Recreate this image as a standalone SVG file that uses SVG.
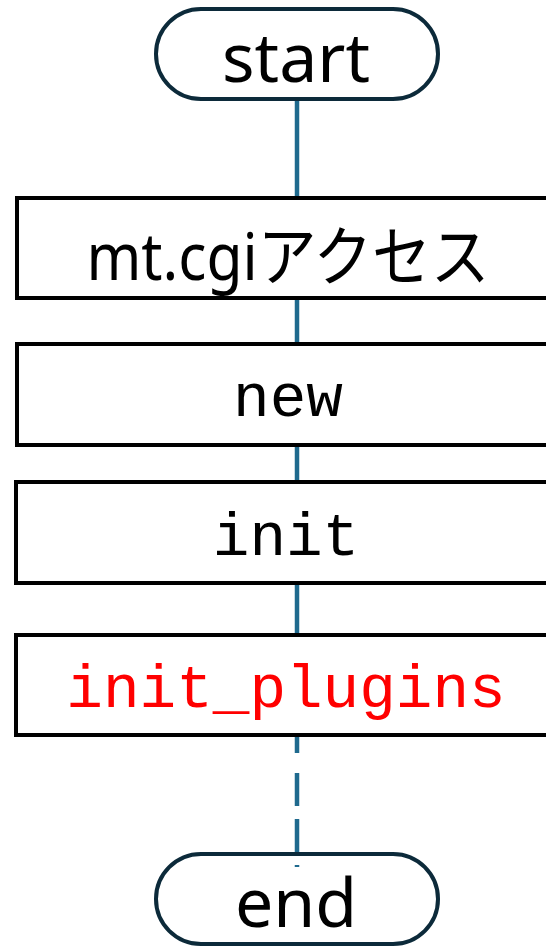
<svg xmlns="http://www.w3.org/2000/svg" width="546" height="947" viewBox="0 0 546 947">
<style>
.term{fill:none;stroke:#0c2a3a;stroke-width:4}
.box{fill:#fff;stroke:#000;stroke-width:4}
.edge{stroke:#1f6a8e;stroke-width:4.5;fill:none}
.sans{font-family:"Noto Sans","Noto Sans CJK JP",sans-serif;fill:#000;text-anchor:middle}
.mono{font-family:"Liberation Mono","DejaVu Sans Mono",monospace;font-size:61px;fill:#000;text-anchor:middle}
</style>
<rect width="546" height="947" fill="#fff"/>
<g id="connectors">
<line class="edge" x1="297" y1="99" x2="297" y2="198"/>
<line class="edge" x1="297" y1="298" x2="297" y2="343"/>
<line class="edge" x1="297" y1="445" x2="297" y2="482"/>
<line class="edge" x1="297" y1="583" x2="297" y2="635"/>
<line class="edge" x1="297" y1="737" x2="297" y2="867" stroke-dasharray="16,20,33,13,33,13,2,100"/>
</g>
<g id="start">
<rect class="term" x="156" y="9" width="282" height="90" rx="45"/>
<text class="sans" x="296" y="82" font-size="68">start</text>
</g>
<g id="mtcgi">
<rect class="box" x="17" y="198" width="560" height="100"/>
<text class="sans" x="288" y="280" font-size="65" textLength="403" lengthAdjust="spacingAndGlyphs">mt.cgiアクセス</text>
</g>
<g id="new">
<rect class="box" x="17" y="344" width="560" height="101"/>
<text class="mono" x="288" y="416">new</text>
</g>
<g id="init">
<rect class="box" x="16" y="482" width="560" height="101"/>
<text class="mono" x="286" y="555">init</text>
</g>
<g id="init_plugins">
<rect class="box" x="16" y="635" width="560" height="100"/>
<text class="mono" x="286" y="707" style="fill:#ff0000">init_plugins</text>
</g>
<g id="end">
<rect class="term" x="156" y="854" width="282" height="90" rx="45"/>
<text class="sans" x="296" y="927" font-size="68">end</text>
</g>
</svg>
